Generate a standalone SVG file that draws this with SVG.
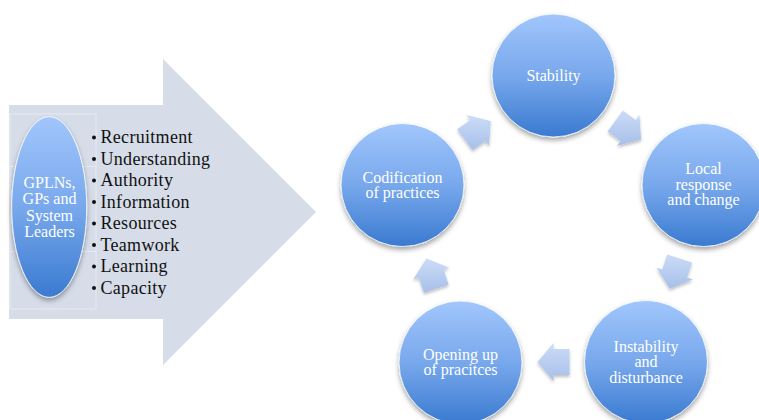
<svg xmlns="http://www.w3.org/2000/svg" width="759" height="420" viewBox="0 0 759 420">
  <style>
    .lbl { font-family: "Liberation Serif", "Times New Roman", serif; fill: #ffffff; font-size: 16px; text-anchor: middle; }
    .item { font-family: "Liberation Serif", "Times New Roman", serif; fill: #111111; font-size: 18px; letter-spacing: 0.3px; }
    .dot { fill: #111111; }
    .node { fill: url(#blueFill); stroke: #ffffff; stroke-opacity: 0.8; stroke-width: 1; filter: url(#shade); }
    .step { fill: url(#stepFill); filter: url(#shadeSoft); }
    .seam { stroke: #e6ebf3; stroke-width: 1; fill: none; }
  </style>
  <defs>
    <linearGradient id="blueFill" x1="0" y1="0" x2="0" y2="1">
      <stop offset="0" stop-color="#a1c6fc"/>
      <stop offset="0.5" stop-color="#78a8ec"/>
      <stop offset="1" stop-color="#3a7ad0"/>
    </linearGradient>
    <linearGradient id="stepFill" x1="0" y1="0" x2="0" y2="1">
      <stop offset="0" stop-color="#cbdcf8"/>
      <stop offset="1" stop-color="#a7bfe8"/>
    </linearGradient>
    <filter id="shade" x="-20%" y="-20%" width="140%" height="150%">
      <feDropShadow dx="0" dy="3" stdDeviation="2.5" flood-color="#000000" flood-opacity="0.35"/>
    </filter>
    <filter id="shadeSoft" x="-30%" y="-30%" width="160%" height="160%">
      <feDropShadow dx="0" dy="2" stdDeviation="1.8" flood-color="#000000" flood-opacity="0.25"/>
    </filter>
  </defs>

  <!-- large pointer arrow with the list panel -->
  <g id="pointer">
    <polygon points="9,105 163,105 163,59 316,212 163,365 163,319 9,319" fill="#d6dde9"/>
    <rect x="10" y="114" width="86" height="195" class="seam"/>
    <line x1="10" y1="166.5" x2="96" y2="166.5" class="seam"/>
    <line x1="10" y1="251.5" x2="96" y2="251.5" class="seam"/>
  </g>

  <g id="actors">
    <ellipse cx="49.2" cy="207" rx="37.5" ry="90.3" class="node"/>
    <text class="lbl"><tspan x="49.5" y="187.5">GPLNs,</tspan><tspan x="49.5" y="204">GPs and</tspan><tspan x="49.5" y="220.5">System</tspan><tspan x="49.5" y="237">Leaders</tspan></text>
  </g>

  <g id="factors">
    <circle class="dot" cx="94" cy="137.5" r="2"/>
    <circle class="dot" cx="94" cy="159" r="2"/>
    <circle class="dot" cx="94" cy="180.5" r="2"/>
    <circle class="dot" cx="94" cy="202" r="2"/>
    <circle class="dot" cx="94" cy="223.5" r="2"/>
    <circle class="dot" cx="94" cy="245" r="2"/>
    <circle class="dot" cx="94" cy="266.5" r="2"/>
    <circle class="dot" cx="94" cy="288" r="2"/>
    <text class="item" x="100.5" y="143.3">Recruitment</text>
    <text class="item" x="100.5" y="164.8">Understanding</text>
    <text class="item" x="100.5" y="186.3">Authority</text>
    <text class="item" x="100.5" y="207.8">Information</text>
    <text class="item" x="100.5" y="229.3">Resources</text>
    <text class="item" x="100.5" y="250.8">Teamwork</text>
    <text class="item" x="100.5" y="272.3">Learning</text>
    <text class="item" x="100.5" y="293.8">Capacity</text>
  </g>

  <!-- cycle step arrows -->
  <g id="connectors">
    <polygon class="step" points="457.2,129.3 470.2,119.9 466.6,115.0 490.7,121.0 489.0,145.8 485.4,140.9 472.5,150.3"/>
    <polygon class="step" points="622.9,110.5 635.8,119.9 639.4,115.0 641.1,139.8 617.0,145.8 620.6,140.9 607.6,131.5"/>
    <polygon class="step" points="692.0,262.4 687.1,277.6 692.8,279.5 669.8,288.8 656.6,267.7 662.3,269.6 667.3,254.4"/>
    <polygon class="step" points="569.5,375 553.5,375 553.5,381 537.5,362 553.5,343 553.5,349 569.5,349"/>
    <polygon class="step" points="423.9,292.8 418.9,277.6 413.2,279.5 426.4,258.4 449.4,267.7 443.7,269.6 448.6,284.8"/>
  </g>

  <g id="stability">
    <circle cx="553.5" cy="75.5" r="61.5" class="node"/>
    <text class="lbl" x="553.5" y="80.7">Stability</text>
  </g>
  <g id="local-response">
    <circle cx="703.5" cy="185" r="61.5" class="node"/>
    <text class="lbl"><tspan x="703.5" y="174.3">Local</tspan><tspan x="703.5" y="189.8">response</tspan><tspan x="703.5" y="205.3">and change</tspan></text>
  </g>
  <g id="instability">
    <circle cx="646" cy="362" r="61.5" class="node"/>
    <text class="lbl"><tspan x="646" y="351.7">Instability</tspan><tspan x="646" y="367.2">and</tspan><tspan x="646" y="382.7">disturbance</tspan></text>
  </g>
  <g id="opening-up">
    <circle cx="460.5" cy="362.5" r="61.5" class="node"/>
    <text class="lbl"><tspan x="460.5" y="359.5">Opening up</tspan><tspan x="460.5" y="375">of pracitces</tspan></text>
  </g>
  <g id="codification">
    <circle cx="402.5" cy="185" r="61.5" class="node"/>
    <text class="lbl"><tspan x="402.5" y="182.7">Codification</tspan><tspan x="402.5" y="198.2">of practices</tspan></text>
  </g>
</svg>
